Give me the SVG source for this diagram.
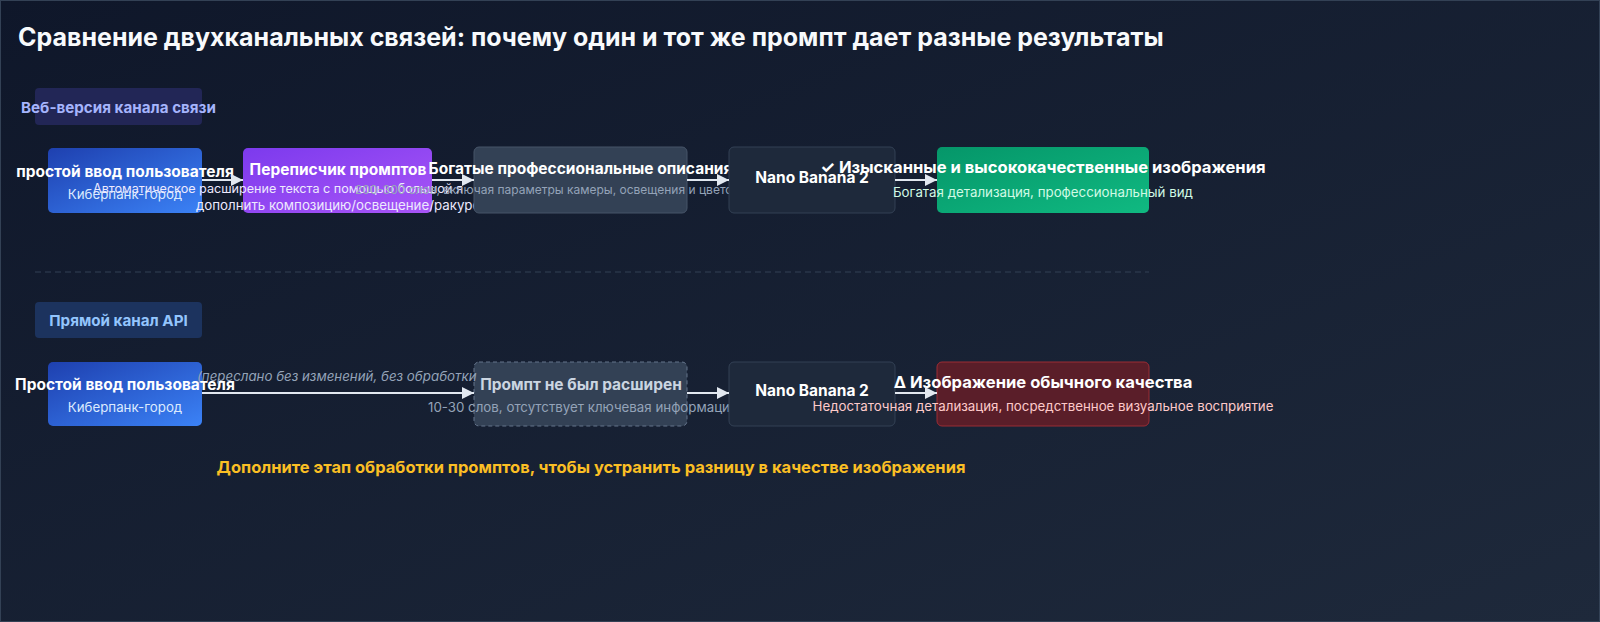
<svg xmlns="http://www.w3.org/2000/svg" width="1600" height="622" viewBox="0 0 1600 622">
<defs>
<linearGradient id="bg" x1="0" y1="0" x2="1" y2="1"><stop offset="0" stop-color="#0f172a"/><stop offset="1" stop-color="#1e293b"/></linearGradient>
<linearGradient id="gBlue" x1="0" y1="0" x2="1" y2="1"><stop offset="0" stop-color="#1e40af"/><stop offset="1" stop-color="#3b82f6"/></linearGradient>
<linearGradient id="gPurple" x1="0" y1="0" x2="1" y2="1"><stop offset="0" stop-color="#7c3aed"/><stop offset="1" stop-color="#a855f7"/></linearGradient>
<linearGradient id="gGreen" x1="0" y1="0" x2="1" y2="1"><stop offset="0" stop-color="#059669"/><stop offset="1" stop-color="#10b981"/></linearGradient>
<marker id="ah" viewBox="0 0 12 12" refX="12" refY="6" markerWidth="12" markerHeight="12" markerUnits="userSpaceOnUse" orient="auto"><path d="M0,0 L12,6 L0,12 Z" fill="#e2e8f0"/></marker>
<style>
text{font-family:Inter,"Liberation Sans",sans-serif}
.title{font-size:25px;font-weight:700;fill:#f8fafc}
.sec{font-size:15.2px;font-weight:700;text-anchor:middle}
.nt{font-size:15.5px;font-weight:700;fill:#ffffff;text-anchor:middle}
.rt{font-size:16.6px;font-weight:700;fill:#ffffff;text-anchor:middle}
.ns{font-size:13.3px;text-anchor:middle}
.conn{stroke:#e2e8f0;stroke-width:2;fill:none;marker-end:url(#ah)}
</style>
</defs>
<rect x="0" y="0" width="1600" height="622" fill="url(#bg)"/>
<rect x="0.5" y="0.5" width="1599" height="621" fill="none" stroke="#334155" stroke-width="1"/>
<text class="title" x="18" y="46">Сравнение двухканальных связей: почему один и тот же промпт дает разные результаты</text>

<g id="sec-web"><rect x="35" y="88" width="167" height="37" rx="4" fill="#222656"/><text class="sec" x="118.5" y="113" fill="#a5b4fc">Веб-версия канала связи</text></g>
<g id="sec-api"><rect x="35" y="302" width="167" height="36" rx="4" fill="#1c335e"/><text class="sec" x="118.5" y="326" fill="#93c5fd">Прямой канал API</text></g>

<line x1="35" y1="272" x2="1149" y2="272" stroke="#334155" stroke-width="1" stroke-dasharray="6,4"/>

<g id="web-input"><rect x="48" y="148" width="154" height="65" rx="5" fill="url(#gBlue)"/><text class="nt" x="125" y="177">простой ввод пользователя</text><text class="ns" x="125" y="199" fill="#dbeafe">Киберпанк-город</text></g>
<g id="web-rewriter"><rect x="243" y="148" width="189" height="65" rx="5" fill="url(#gPurple)"/><text class="nt" x="338" y="175">Переписчик промптов</text><text x="93" y="193" font-size="12.6" fill="#ede9fe">Автоматическое расширение текста с помощью большой я</text><text class="ns" x="338" y="210" fill="#ede9fe">дополнить композицию/освещение/ракурс</text></g>
<g id="web-rich"><rect x="474" y="147" width="213" height="66" rx="5" fill="#334155" stroke="#475569" stroke-width="1"/><text class="nt" x="580.5" y="174">Богатые профессиональные описания</text><text x="355" y="194" font-size="12" fill="#94a3b8">200-300 слов, включая параметры камеры, освещения и цвето</text></g>
<g id="web-model"><rect x="729" y="147" width="166" height="66" rx="5" fill="#1e293b" stroke="#334155" stroke-width="1"/><text class="nt" x="812" y="183">Nano Banana 2</text></g>
<g id="web-result"><rect x="937" y="147" width="212" height="66" rx="5" fill="url(#gGreen)"/><text class="rt" x="1043" y="173">✓ Изысканные и высококачественные изображения</text><text class="ns" x="1043" y="197" fill="#d1fae5">Богатая детализация, профессиональный вид</text></g>

<g id="api-input"><rect x="48" y="362" width="154" height="64" rx="5" fill="url(#gBlue)"/><text class="nt" x="125" y="390">Простой ввод пользователя</text><text class="ns" x="125" y="412" fill="#dbeafe">Киберпанк-город</text></g>
<g id="api-raw"><rect x="474" y="362" width="213" height="64" rx="5" fill="#334155" stroke="#64748b" stroke-width="1" stroke-dasharray="4,3"/><text class="nt" x="581" y="390" style="fill:#cbd5e1">Промпт не был расширен</text><text x="428" y="412" font-size="13.3" fill="#94a3b8">10-30 слов, отсутствует ключевая информация</text></g>
<g id="api-model"><rect x="729" y="362" width="166" height="64" rx="5" fill="#1e293b" stroke="#334155" stroke-width="1"/><text class="nt" x="812" y="396">Nano Banana 2</text></g>
<g id="api-result"><rect x="937" y="362" width="212" height="64" rx="5" fill="#5a1e29" stroke="#9b2c35" stroke-width="1"/><text class="rt" x="1043" y="388">Δ Изображение обычного качества</text><text class="ns" x="1043" y="411" fill="#fecaca">Недостаточная детализация, посредственное визуальное восприятие</text></g>

<g id="connectors">
<line class="conn" x1="202" y1="180" x2="243" y2="180"/>
<line class="conn" x1="432" y1="180" x2="474" y2="180"/>
<line class="conn" x1="687" y1="180" x2="729" y2="180"/>
<line class="conn" x1="895" y1="180" x2="937" y2="180"/>
<line class="conn" x1="202" y1="393" x2="474" y2="393"/>
<line class="conn" x1="687" y1="393" x2="729" y2="393"/>
<line class="conn" x1="895" y1="393" x2="937" y2="393"/>
<text x="197" y="381" font-size="13.3" font-style="italic" fill="#94a3b8">(переслано без изменений, без обработки</text>
</g>

<text x="591" y="473" font-size="16.5" font-weight="700" fill="#fbbf24" text-anchor="middle">Дополните этап обработки промптов, чтобы устранить разницу в качестве изображения</text>
</svg>
